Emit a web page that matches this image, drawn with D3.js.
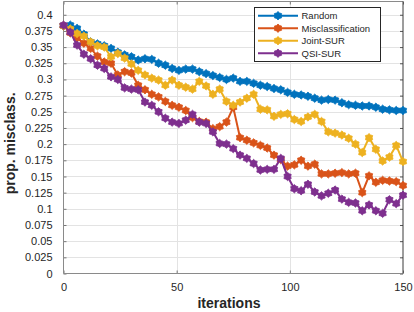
<!DOCTYPE html>
<html>
<head>
<meta charset="utf-8">
<script src="https://cdn.jsdelivr.net/npm/d3@7"></script>
<style>
  body { margin: 0; background: #fff; }
  svg { display: block; font-family: "Liberation Sans", Arial, sans-serif; }
</style>
</head>
<body>
<svg id="chart" width="414" height="312"></svg>
<script>
// iterations are sampled every 3 steps, 0..150
const iterations = d3.range(0, 151, 3);

const seriesNames = ['Random', 'Misclassification', 'Joint-SUR', 'QSI-SUR'];

const randomVals = [0.383, 0.384, 0.379, 0.370, 0.358, 0.355, 0.352, 0.348, 0.342, 0.338,
  0.335, 0.330, 0.332, 0.331, 0.325, 0.322, 0.317, 0.314, 0.316, 0.316,
  0.312, 0.309, 0.306, 0.303, 0.300, 0.302, 0.297, 0.297, 0.294, 0.291,
  0.289, 0.286, 0.284, 0.280, 0.277, 0.276, 0.274, 0.271, 0.268, 0.269,
  0.268, 0.264, 0.261, 0.260, 0.259, 0.259, 0.257, 0.254, 0.253, 0.252, 0.252];

const misclassVals = [0.383, 0.372, 0.364, 0.356, 0.348, 0.336, 0.327, 0.325, 0.307, 0.312,
  0.310, 0.291, 0.284, 0.277, 0.273, 0.266, 0.260, 0.257, 0.252, 0.241,
  0.235, 0.234, 0.224, 0.227, 0.234, 0.257, 0.210, 0.206, 0.202, 0.198,
  0.194, 0.183, 0.176, 0.166, 0.168, 0.175, 0.166, 0.169, 0.154, 0.154,
  0.155, 0.156, 0.154, 0.155, 0.125, 0.151, 0.141, 0.144, 0.143, 0.142, 0.136];

const jointVals = [0.383, 0.378, 0.371, 0.367, 0.358, 0.352, 0.350, 0.335, 0.340, 0.333,
  0.324, 0.314, 0.307, 0.302, 0.299, 0.291, 0.299, 0.291, 0.288, 0.285,
  0.297, 0.290, 0.277, 0.285, 0.266, 0.260, 0.265, 0.271, 0.277, 0.254,
  0.253, 0.243, 0.246, 0.247, 0.238, 0.235, 0.242, 0.246, 0.235, 0.219,
  0.217, 0.214, 0.209, 0.200, 0.187, 0.210, 0.192, 0.174, 0.180, 0.198, 0.173];

const qsiVals = [0.384, 0.373, 0.353, 0.339, 0.332, 0.322, 0.317, 0.304, 0.300, 0.287,
  0.285, 0.284, 0.265, 0.260, 0.250, 0.240, 0.234, 0.232, 0.237, 0.246,
  0.234, 0.232, 0.219, 0.201, 0.200, 0.193, 0.183, 0.178, 0.170, 0.160,
  0.161, 0.161, 0.178, 0.150, 0.131, 0.128, 0.138, 0.126, 0.120, 0.124,
  0.129, 0.115, 0.110, 0.109, 0.097, 0.106, 0.097, 0.093, 0.114, 0.108, 0.121];

const colors = ['#0072BD', '#D95319', '#EDB120', '#7E2F8E'];
const yTicks = d3.range(0, 0.4001, 0.025);
const xTicks = [0, 50, 100, 150];

const allSeries = [randomVals, misclassVals, jointVals, qsiVals];

const svg = d3.select('#chart');
const plotL = 63.5, plotR = 403, plotT = 1.5, plotB = 273.5;

const x = d3.scaleLinear().domain([0, 150]).range([plotL, plotR]);
const y = d3.scaleLinear().domain([0, 0.4205]).range([plotB, plotT]);

// grid
svg.append('g').selectAll('line')
    .data(yTicks.slice(1))
    .enter().append('line')
    .attr('x1', plotL).attr('x2', plotR)
    .attr('y1', d => Math.round(y(d)) + 0.5).attr('y2', d => Math.round(y(d)) + 0.5)
    .attr('stroke', '#e3e3e3').attr('stroke-width', 1);

svg.append('g').selectAll('line')
    .data(xTicks.slice(1, -1))
    .enter().append('line')
    .attr('x1', d => Math.round(x(d)) + 0.5).attr('x2', d => Math.round(x(d)) + 0.5)
    .attr('y1', plotT).attr('y2', plotB)
    .attr('stroke', '#e3e3e3').attr('stroke-width', 1);

// axes
const yAxis = d3.axisLeft(y).tickValues(yTicks).tickSize(-3).tickPadding(11)
    .tickFormat(d => +d.toFixed(3) + '');
const gy = svg.append('g').attr('transform', `translate(${plotL},0)`).call(yAxis);
gy.select('.domain').remove();
gy.selectAll('line').attr('stroke', '#777');
gy.selectAll('text').attr('font-size', 11).attr('fill', '#262626')
    .attr('font-family', '"Liberation Sans", Arial, sans-serif');

const gyr = svg.append('g').attr('transform', `translate(${plotR},0)`)
    .call(d3.axisRight(y).tickValues(yTicks).tickSize(-3).tickFormat(''));
gyr.select('.domain').remove();
gyr.selectAll('line').attr('stroke', '#555');

const xAxis = d3.axisBottom(x).tickValues(xTicks).tickSize(-3).tickPadding(10);
const gx = svg.append('g').attr('transform', `translate(0,${plotB})`).call(xAxis);
gx.select('.domain').remove();
gx.selectAll('line').attr('stroke', '#777');
gx.selectAll('text').attr('font-size', 11).attr('fill', '#262626')
    .attr('font-family', '"Liberation Sans", Arial, sans-serif');

const gxt = svg.append('g').attr('transform', `translate(0,${plotT})`)
    .call(d3.axisTop(x).tickValues(xTicks).tickSize(-3).tickFormat(''));
gxt.select('.domain').remove();
gxt.selectAll('line').attr('stroke', '#777');

// box
svg.append('path')
    .attr('d', `M${plotL},${plotT}H${plotR}`).attr('stroke', '#8a8a8a').attr('fill', 'none');
svg.append('path')
    .attr('d', `M${plotL},${plotT}V${plotB}H${plotR}`).attr('stroke', '#8a8a8a').attr('fill', 'none');
svg.append('path')
    .attr('d', `M${plotR},${plotT}V${plotB}`).attr('stroke', '#3a3a3a').attr('fill', 'none');

// hexagram marker path
function hexagram(r) {
    const pts = [];
    for (let k = 0; k < 12; k++) {
        const a = -Math.PI / 2 + k * Math.PI / 6;
        const rr = k % 2 === 0 ? r : r * 0.74;
        pts.push([rr * Math.cos(a), rr * Math.sin(a)]);
    }
    return 'M' + pts.map(p => p.join(',')).join('L') + 'Z';
}
const markerPath = hexagram(4.2);

const line = d3.line()
    .x((d, i) => x(iterations[i]))
    .y(d => y(d));

allSeries.forEach((vals, s) => {
    const g = svg.append('g');
    g.append('path')
        .datum(vals)
        .attr('d', line)
        .attr('fill', 'none')
        .attr('stroke', colors[s])
        .attr('stroke-width', 2);
    g.selectAll('path.mk')
        .data(vals)
        .enter().append('path')
        .attr('class', 'mk')
        .attr('d', markerPath)
        .attr('transform', (d, i) => `translate(${x(iterations[i])},${y(d)})`)
        .attr('fill', colors[s])
        .attr('stroke', colors[s])
        .attr('stroke-width', 0.8);
});

// legend
const legend = svg.append('g').attr('class', 'legend');
legend.append('rect')
    .attr('x', 254.5).attr('y', 7.5).attr('width', 126).attr('height', 54)
    .attr('fill', '#fff').attr('stroke', '#262626').attr('stroke-width', 1);

const legendItems = legend.selectAll('.legend-item')
    .data(seriesNames)
    .enter().append('g')
    .attr('class', 'legend-item')
    .attr('transform', (d, i) => `translate(0, ${15.7 + i * 12.5})`);

legendItems.append('line')
    .attr('x1', 258).attr('x2', 298)
    .attr('stroke', (d, i) => colors[i]).attr('stroke-width', 2);

legendItems.append('path')
    .attr('d', markerPath)
    .attr('transform', 'translate(278,0)')
    .attr('fill', (d, i) => colors[i])
    .attr('stroke', (d, i) => colors[i])
    .attr('stroke-width', 0.8);

legendItems.append('text')
    .attr('x', 301.5).attr('y', 3.4)
    .text(d => d)
    .style('font-size', '9.5px')
    .style('fill', '#262626');

// axis labels
svg.append('text')
    .attr('transform', 'translate(14.5,143.4) rotate(-90)')
    .attr('text-anchor', 'middle')
    .style('font-size', '14px')
    .style('font-weight', 'bold')
    .style('fill', '#262626')
    .text('prop. misclass.');

svg.append('text')
    .attr('x', 229)
    .attr('y', 308)
    .attr('text-anchor', 'middle')
    .style('font-size', '14px')
    .style('font-weight', 'bold')
    .style('fill', '#262626')
    .text('iterations');
</script>
</body>
</html>
